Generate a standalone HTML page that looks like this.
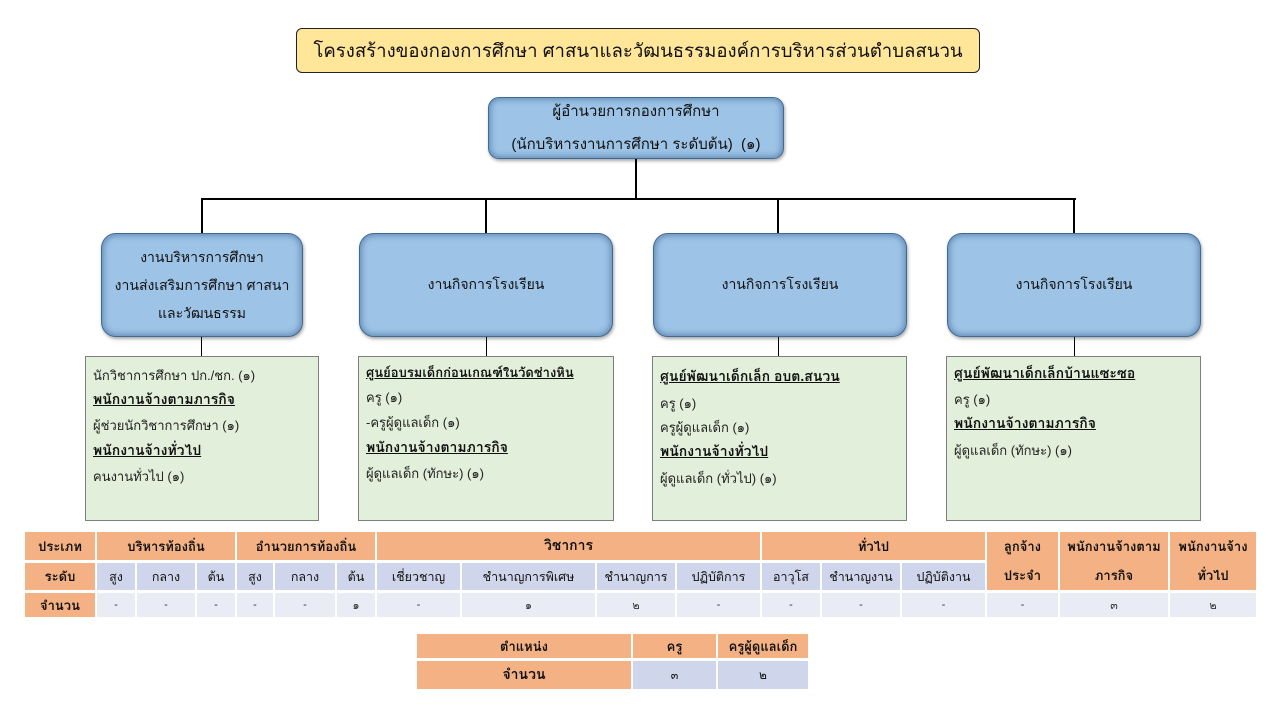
<!DOCTYPE html>
<html><head><meta charset="utf-8">
<style>
html,body{margin:0;padding:0;background:#fff;}
body{width:1280px;height:720px;position:relative;overflow:hidden;font-family:"Liberation Sans","Tahoma","Loma","Garuda","Norasi","DejaVu Sans",sans-serif;color:#111;}
.abs{position:absolute;}
.title{left:296px;top:28px;width:682px;height:43px;background:#FFE699;border:1px solid #222;border-radius:6px;text-align:center;line-height:43px;font-size:18.6px;white-space:nowrap;}
.blue{background:#9DC3E6;border:1.5px solid #3f6a93;border-radius:15px;box-shadow:inset 0 0 6px 2px rgba(40,80,130,0.45),1px 2px 3px rgba(0,0,0,0.35);display:flex;align-items:center;justify-content:center;text-align:center;font-size:14px;white-space:nowrap;box-sizing:border-box;}
.green{background:#E2EFDA;border:1px solid #7f7f7f;box-sizing:border-box;font-size:13px;white-space:nowrap;color:#222;}
.green div{position:absolute;left:7px;}
.green .h{font-weight:bold;text-decoration:underline;font-size:14px;color:#111;}
.hl{background:#000;position:absolute;}
.vl{background:#000;position:absolute;}
table{border-collapse:separate;border-spacing:0;position:absolute;}
td{padding:0;text-align:center;white-space:nowrap;border-right:2px solid #fff;border-bottom:3px solid #fff;box-sizing:border-box;}
.o{background:#F4B183;font-weight:bold;font-size:13px;}
.b{background:#CFD5EA;font-size:12.5px;}
.l{background:#E9EBF5;font-size:11px;color:#333;}
</style></head><body>

<div class="abs title">โครงสร้างของกองการศึกษา ศาสนาและวัฒนธรรมองค์การบริหารส่วนตำบลสนวน</div>

<div class="abs blue" style="left:488px;top:97px;width:296px;height:62px;border-radius:11px;font-size:15px;line-height:33px;">ผู้อำนวยการกองการศึกษา<br>(นักบริหารงานการศึกษา ระดับต้น)&nbsp; (๑)</div>

<!-- connectors -->
<div class="vl" style="left:635px;top:159px;width:2px;height:41px;"></div>
<div class="hl" style="left:201px;top:198px;width:875px;height:2px;"></div>
<div class="vl" style="left:201px;top:198px;width:2px;height:36px;"></div>
<div class="vl" style="left:485px;top:198px;width:2px;height:36px;"></div>
<div class="vl" style="left:777px;top:198px;width:2px;height:36px;"></div>
<div class="vl" style="left:1073px;top:198px;width:2px;height:36px;"></div>

<div class="vl" style="left:201px;top:336px;width:1px;height:21px;"></div>
<div class="vl" style="left:486px;top:336px;width:1px;height:21px;"></div>
<div class="vl" style="left:778px;top:336px;width:1px;height:21px;"></div>
<div class="vl" style="left:1074px;top:336px;width:1px;height:21px;"></div>

<!-- level 2 -->
<div class="abs blue" style="left:101px;top:233px;width:202px;height:104px;line-height:28px;">งานบริหารการศึกษา<br>งานส่งเสริมการศึกษา ศาสนา<br>และวัฒนธรรม</div>
<div class="abs blue" style="left:359px;top:233px;width:254px;height:104px;">งานกิจการโรงเรียน</div>
<div class="abs blue" style="left:653px;top:233px;width:254px;height:104px;">งานกิจการโรงเรียน</div>
<div class="abs blue" style="left:947px;top:233px;width:254px;height:104px;">งานกิจการโรงเรียน</div>

<!-- green boxes -->
<div class="abs green" style="left:85px;top:356px;width:234px;height:165px;">
 <div style="top:8px;">นักวิชาการศึกษา ปก./ชก. (๑)</div>
 <div class="h" style="top:32px;">พนักงานจ้างตามภารกิจ</div>
 <div style="top:58px;">ผู้ช่วยนักวิชาการศึกษา (๑)</div>
 <div class="h" style="top:83px;">พนักงานจ้างทั่วไป</div>
 <div style="top:109px;">คนงานทั่วไป (๑)</div>
</div>
<div class="abs green" style="left:358px;top:356px;width:256px;height:165px;">
 <div class="h" style="top:5px;font-size:13px;">ศูนย์อบรมเด็กก่อนเกณฑ์ในวัดช่างหิน</div>
 <div style="top:30px;">ครู (๑)</div>
 <div style="top:55px;">-ครูผู้ดูแลเด็ก (๑)</div>
 <div class="h" style="top:80px;">พนักงานจ้างตามภารกิจ</div>
 <div style="top:106px;">ผู้ดูแลเด็ก (ทักษะ) (๑)</div>
</div>
<div class="abs green" style="left:652px;top:356px;width:255px;height:165px;">
 <div class="h" style="top:9px;">ศูนย์พัฒนาเด็กเล็ก อบต.สนวน</div>
 <div style="top:36px;">ครู (๑)</div>
 <div style="top:60px;">ครูผู้ดูแลเด็ก (๑)</div>
 <div class="h" style="top:84px;">พนักงานจ้างทั่วไป</div>
 <div style="top:111px;">ผู้ดูแลเด็ก (ทั่วไป) (๑)</div>
</div>
<div class="abs green" style="left:946px;top:356px;width:255px;height:165px;">
 <div class="h" style="top:6px;">ศูนย์พัฒนาเด็กเล็กบ้านแซะซอ</div>
 <div style="top:32px;">ครู (๑)</div>
 <div class="h" style="top:56px;">พนักงานจ้างตามภารกิจ</div>
 <div style="top:83px;">ผู้ดูแลเด็ก (ทักษะ) (๑)</div>
</div>

<!-- main table -->
<table style="left:25px;top:532px;">
<tr style="height:30px;">
 <td class="o" style="width:72px;">ประเภท</td>
 <td class="o" colspan="3" style="width:140px;">บริหารท้องถิ่น</td>
 <td class="o" colspan="3" style="width:140px;">อำนวยการท้องถิ่น</td>
 <td class="o" colspan="4" style="width:385px;font-size:14px;">วิชาการ</td>
 <td class="o" colspan="3" style="width:225px;">ทั่วไป</td>
 <td class="o" rowspan="2" style="width:73px;line-height:29px;">ลูกจ้าง<br>ประจำ</td>
 <td class="o" rowspan="2" style="width:110px;line-height:29px;">พนักงานจ้างตาม<br>ภารกิจ</td>
 <td class="o" rowspan="2" style="width:86px;line-height:29px;border-right:0;">พนักงานจ้าง<br>ทั่วไป</td>
</tr>
<tr style="height:29px;">
 <td class="o">ระดับ</td>
 <td class="b" style="width:40px;">สูง</td>
 <td class="b" style="width:60px;">กลาง</td>
 <td class="b" style="width:40px;">ต้น</td>
 <td class="b" style="width:38px;">สูง</td>
 <td class="b" style="width:62px;">กลาง</td>
 <td class="b" style="width:40px;">ต้น</td>
 <td class="b" style="width:85px;">เชี่ยวชาญ</td>
 <td class="b" style="width:135px;">ชำนาญการพิเศษ</td>
 <td class="b" style="width:80px;">ชำนาญการ</td>
 <td class="b" style="width:85px;">ปฏิบัติการ</td>
 <td class="b" style="width:60px;">อาวุโส</td>
 <td class="b" style="width:80px;">ชำนาญงาน</td>
 <td class="b" style="width:85px;">ปฏิบัติงาน</td>
</tr>
<tr style="height:24px;">
 <td class="o" style="border-bottom:0;">จำนวน</td>
 <td class="l" style="border-bottom:0;">-</td>
 <td class="l" style="border-bottom:0;">-</td>
 <td class="l" style="border-bottom:0;">-</td>
 <td class="l" style="border-bottom:0;">-</td>
 <td class="l" style="border-bottom:0;">-</td>
 <td class="l" style="border-bottom:0;">๑</td>
 <td class="l" style="border-bottom:0;">-</td>
 <td class="l" style="border-bottom:0;">๑</td>
 <td class="l" style="border-bottom:0;">๒</td>
 <td class="l" style="border-bottom:0;">-</td>
 <td class="l" style="border-bottom:0;">-</td>
 <td class="l" style="border-bottom:0;">-</td>
 <td class="l" style="border-bottom:0;">-</td>
 <td class="l" style="border-bottom:0;">-</td>
 <td class="l" style="border-bottom:0;">๓</td>
 <td class="l" style="border-bottom:0;border-right:0;">๒</td>
</tr>
</table>

<!-- bottom table -->
<table style="left:417px;top:634px;">
<tr style="height:27px;">
 <td class="o" style="width:216px;">ตำแหน่ง</td>
 <td class="o" style="width:85px;">ครู</td>
 <td class="o" style="width:90px;border-right:0;">ครูผู้ดูแลเด็ก</td>
</tr>
<tr style="height:28px;">
 <td class="o" style="border-bottom:0;font-size:14px;">จำนวน</td>
 <td class="b" style="border-bottom:0;font-size:11px;">๓</td>
 <td class="b" style="border-bottom:0;border-right:0;font-size:12px;">๒</td>
</tr>
</table>

</body></html>
